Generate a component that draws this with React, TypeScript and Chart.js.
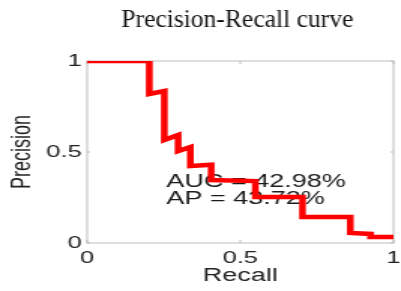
import React, { useEffect, useRef } from 'react';
import { Chart, registerables } from 'chart.js';

Chart.register(...registerables);

// ---- data ----
const recall = [0, 0.203, 0.203, 0.252, 0.252, 0.297, 0.297, 0.337, 0.337, 0.405, 0.405, 0.549, 0.549, 0.703, 0.703, 0.859, 0.859, 0.925, 0.925, 1.0];
const precision = [1, 1, 0.819, 0.835, 0.566, 0.593, 0.505, 0.527, 0.423, 0.43, 0.346, 0.34, 0.253, 0.253, 0.143, 0.143, 0.055, 0.05, 0.033, 0.033];
const xTicks = [0, 0.5, 1];
const yTicks = [0, 0.5, 1];
const titleText = 'Precision-Recall curve';
const xLabel = 'Recall';
const yLabel = 'Precision';
const noteLines = ['AUC = 42.98%', 'AP = 43.72%'];
const noteRecall = 0.258;
const notePrecision = [0.335, 0.242];

// The reference plot is stretched horizontally; draw narrower and stretch with CSS.
const OUT_W = 401;
const OUT_H = 291;
const STRETCH = 1.5;
const CW = Math.round(OUT_W / STRETCH);

const sans = 'Liberation Sans, Arial, sans-serif';
const serif = 'Liberation Serif, Times New Roman, serif';

const framePlugin = {
  id: 'frameAndNotes',
  beforeDatasetsDraw(chart: any) {
    const { ctx, chartArea: a, scales } = chart;
    ctx.save();
    // frame
    ctx.strokeStyle = '#bdbdbd';
    ctx.lineWidth = 1;
    ctx.strokeRect(a.left, a.top, a.right - a.left, a.bottom - a.top);
    // inward tick marks
    ctx.beginPath();
    xTicks.forEach((v) => {
      const px = scales.x.getPixelForValue(v);
      ctx.moveTo(px, a.bottom);
      ctx.lineTo(px, a.bottom - 3);
      ctx.moveTo(px, a.top);
      ctx.lineTo(px, a.top + 3);
    });
    yTicks.forEach((v) => {
      const py = scales.y.getPixelForValue(v);
      ctx.moveTo(a.left, py);
      ctx.lineTo(a.left + 2, py);
      ctx.moveTo(a.right, py);
      ctx.lineTo(a.right - 2, py);
    });
    ctx.stroke();
    // annotation text
    ctx.fillStyle = '#1a1a1a';
    ctx.font = `18px ${sans}`;
    ctx.textAlign = 'left';
    ctx.textBaseline = 'middle';
    noteLines.forEach((t, i) => {
      ctx.fillText(t, scales.x.getPixelForValue(noteRecall), scales.y.getPixelForValue(notePrecision[i]));
    });
    ctx.restore();
  },
  afterDraw(chart: any) {
    // title, drawn without the horizontal stretch (it was typeset separately)
    const { ctx, chartArea: a } = chart;
    ctx.save();
    ctx.translate((a.left + a.right) / 2 - 2, 20);
    ctx.scale(1 / STRETCH, 1);
    ctx.fillStyle = '#111';
    ctx.font = `25.5px ${serif}`;
    ctx.textAlign = 'center';
    ctx.textBaseline = 'middle';
    ctx.fillText(titleText, 0, 0);
    ctx.restore();
  },
};

export default function App() {
  const ref = useRef<HTMLCanvasElement | null>(null);

  useEffect(() => {
    if (!ref.current) return;
    const points = recall.map((r, i) => ({ x: r, y: precision[i] }));
    const chart = new Chart(ref.current, {
      type: 'scatter',
      data: {
        datasets: [
          {
            data: points,
            showLine: true,
            borderColor: '#ff0000',
            backgroundColor: '#ff0000',
            borderWidth: 4.5,
            pointRadius: 0,
            fill: false,
            tension: 0,
            borderJoinStyle: 'miter',
            borderCapStyle: 'butt',
          } as any,
        ],
      },
      options: {
        responsive: false,
        animation: false,
        devicePixelRatio: 1,
        layout: { padding: { left: 0, right: CW - 393 / STRETCH, top: 61, bottom: 0 } },
        plugins: {
          legend: { display: false },
          tooltip: { enabled: false },
          title: { display: false },
        },
        scales: {
          x: {
            type: 'linear',
            min: 0,
            max: 1,
            afterBuildTicks: (s: any) => {
              s.ticks = xTicks.map((v) => ({ value: v }));
            },
            afterFit: (s: any) => {
              s.height = OUT_H - 243;
              s.paddingLeft = 0;
              s.paddingRight = 0;
            },
            ticks: {
              color: '#222',
              font: { family: sans, size: 17 },
              padding: 5,
              maxRotation: 0,
              autoSkip: false,
              callback: (v: any) => String(v),
            },
            grid: { display: false, drawTicks: false },
            border: { display: false },
            title: {
              display: true,
              text: xLabel,
              color: '#222',
              font: { family: sans, size: 18 },
              padding: { top: 0, bottom: 4 },
            },
          },
          y: {
            type: 'linear',
            min: 0,
            max: 1,
            afterBuildTicks: (s: any) => {
              s.ticks = yTicks.map((v) => ({ value: v }));
            },
            afterFit: (s: any) => {
              s.width = 87 / STRETCH;
              s.paddingTop = 0;
              s.paddingBottom = 0;
            },
            ticks: {
              color: '#222',
              font: { family: sans, size: 17 },
              padding: 3.6,
              autoSkip: false,
              callback: (v: any) => String(v),
            },
            grid: { display: false, drawTicks: false },
            border: { display: false },
            title: {
              display: true,
              text: yLabel,
              color: '#222',
              font: { family: sans, size: 18 },
              padding: { top: 4.2, bottom: 0 },
            },
          },
        },
      },
      plugins: [framePlugin],
    } as any);
    return () => chart.destroy();
  }, []);

  return (
    <div style={{ position: 'absolute', left: 0, top: 0, width: OUT_W, height: OUT_H, background: '#fff' }}>
      <canvas
        ref={ref}
        width={CW}
        height={OUT_H}
        style={{ width: OUT_W, height: OUT_H, display: 'block' }}
      />
    </div>
  );
}
